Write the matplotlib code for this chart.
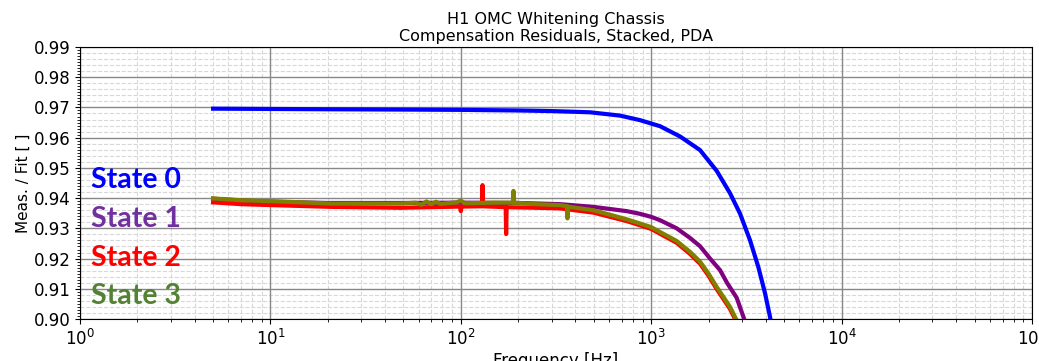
import matplotlib
matplotlib.use('Agg')
import matplotlib.pyplot as plt
import matplotlib.ticker as ticker
import numpy as np

# State 0 (blue)
freq0 = [5, 10, 20, 50, 100, 200, 300, 477, 686, 873, 1112, 1417, 1804, 2208, 2594, 2926,
         3301, 3652, 3964, 4207, 4250]
state0 = [0.9696, 0.9695, 0.9694, 0.9693, 0.9692, 0.9690, 0.9688, 0.9684, 0.9673, 0.9658,
          0.9638, 0.9604, 0.9559, 0.9490, 0.9416, 0.9349, 0.9261, 0.9172, 0.9084, 0.9007, 0.8990]

# State 1 (purple)
freq1 = [5, 7, 10, 20, 50, 100, 200, 332, 497, 743, 873, 1000, 1112, 1361, 1600, 1804, 2037,
         2297, 2500, 2812, 3050, 3112]
state1 = [0.9398, 0.9392, 0.9388, 0.9384, 0.9384, 0.9385, 0.9384, 0.9380, 0.9371, 0.9357,
          0.9348, 0.9338, 0.9327, 0.9300, 0.9268, 0.9241, 0.9200, 0.9162, 0.9120, 0.9070,
          0.9007, 0.8990]

# State 2 (red)
freq2 = [5, 7, 10, 21, 48, 99, 100, 101, 129, 130, 131, 172, 173, 174, 250, 332, 497, 743,
         873, 1000, 1112, 1361, 1600, 1804, 2000, 2208, 2400, 2594, 2754, 2800]
state2 = [0.9386, 0.9380, 0.9377, 0.9371, 0.9368, 0.9372, 0.9357, 0.9372, 0.9373, 0.9443,
          0.9373, 0.9370, 0.9281, 0.9370, 0.9368, 0.9366, 0.9352, 0.9324, 0.9310, 0.9298,
          0.9282, 0.9252, 0.9215, 0.9183, 0.9143, 0.9099, 0.9065, 0.9033, 0.9000, 0.8990]

# State 3 (olive)
freq3 = [5, 7, 10, 21, 48, 58, 62, 66, 70, 74, 78, 95, 100, 105, 150, 188, 189, 190, 250,
         332, 362, 363, 364, 497, 743, 873, 1000, 1112, 1361, 1600, 1804, 2000, 2208, 2400,
         2594, 2754, 2812]
state3 = [0.9399, 0.9393, 0.9390, 0.9382, 0.9382, 0.9385, 0.9378, 0.9389, 0.9380, 0.9388,
          0.9381, 0.9386, 0.9392, 0.9383, 0.9385, 0.9385, 0.9424, 0.9385, 0.9380, 0.9377,
          0.9373, 0.9333, 0.9372, 0.9360, 0.9330, 0.9316, 0.9304, 0.9288, 0.9258, 0.9222,
          0.9190, 0.9150, 0.9106, 0.9072, 0.9040, 0.9007, 0.8995]

labels = ['State 0', 'State 1', 'State 2', 'State 3']
label_colors = ['#0000ff', '#7030a0', '#ff0000', '#548235']

fig = plt.figure(figsize=(10.39, 3.61), dpi=100)
ax = fig.add_axes([0.077, 0.1163, 0.9163, 0.7535])

ax.semilogx(freq0, state0, color='#0000ff', lw=3)
ax.semilogx(freq1, state1, color='#800080', lw=3)
ax.semilogx(freq2, state2, color='#ff0000', lw=3)
ax.semilogx(freq3, state3, color='#808000', lw=3)

ax.set_xlim(1, 1e5)
ax.set_ylim(0.90, 0.99)
ax.yaxis.set_major_locator(ticker.MultipleLocator(0.01))
ax.yaxis.set_minor_locator(ticker.MultipleLocator(0.001))
ax.yaxis.set_major_formatter(ticker.FormatStrFormatter('%.2f'))
ax.xaxis.set_minor_locator(ticker.LogLocator(base=10, subs=range(2, 10), numticks=20))
ax.xaxis.set_minor_formatter(ticker.NullFormatter())

ax.grid(True, which='major', color='#888888', lw=1, ls='-')
ax.grid(True, which='minor', axis='x', color='#d8d8d8', lw=0.8, ls='--')
# dashed minor y grid every 0.002
for yv in np.arange(0.902, 0.99, 0.002):
    if abs(yv * 100 - round(yv * 100)) > 1e-6:
        ax.axhline(yv, color='#d8d8d8', lw=0.8, ls='--', zorder=1)
ax.tick_params(labelsize=12)

ax.set_xlabel('Frequency [Hz]', fontsize=12, labelpad=2)
ax.set_ylabel('Meas. / Fit [ ]', fontsize=11, labelpad=2)
ax.set_title('H1 OMC Whitening Chassis\nCompensation Residuals, Stacked, PDA', fontsize=11.5, pad=4)

ypos = [0.511, 0.368, 0.224, 0.085]
for lab, c, y in zip(labels, label_colors, ypos):
    ax.text(0.012, y, lab, color=c, fontsize=20.5, fontweight='bold', family='Lato',
            transform=ax.transAxes, va='center', ha='left')

fig.savefig('out.png', dpi=100)
